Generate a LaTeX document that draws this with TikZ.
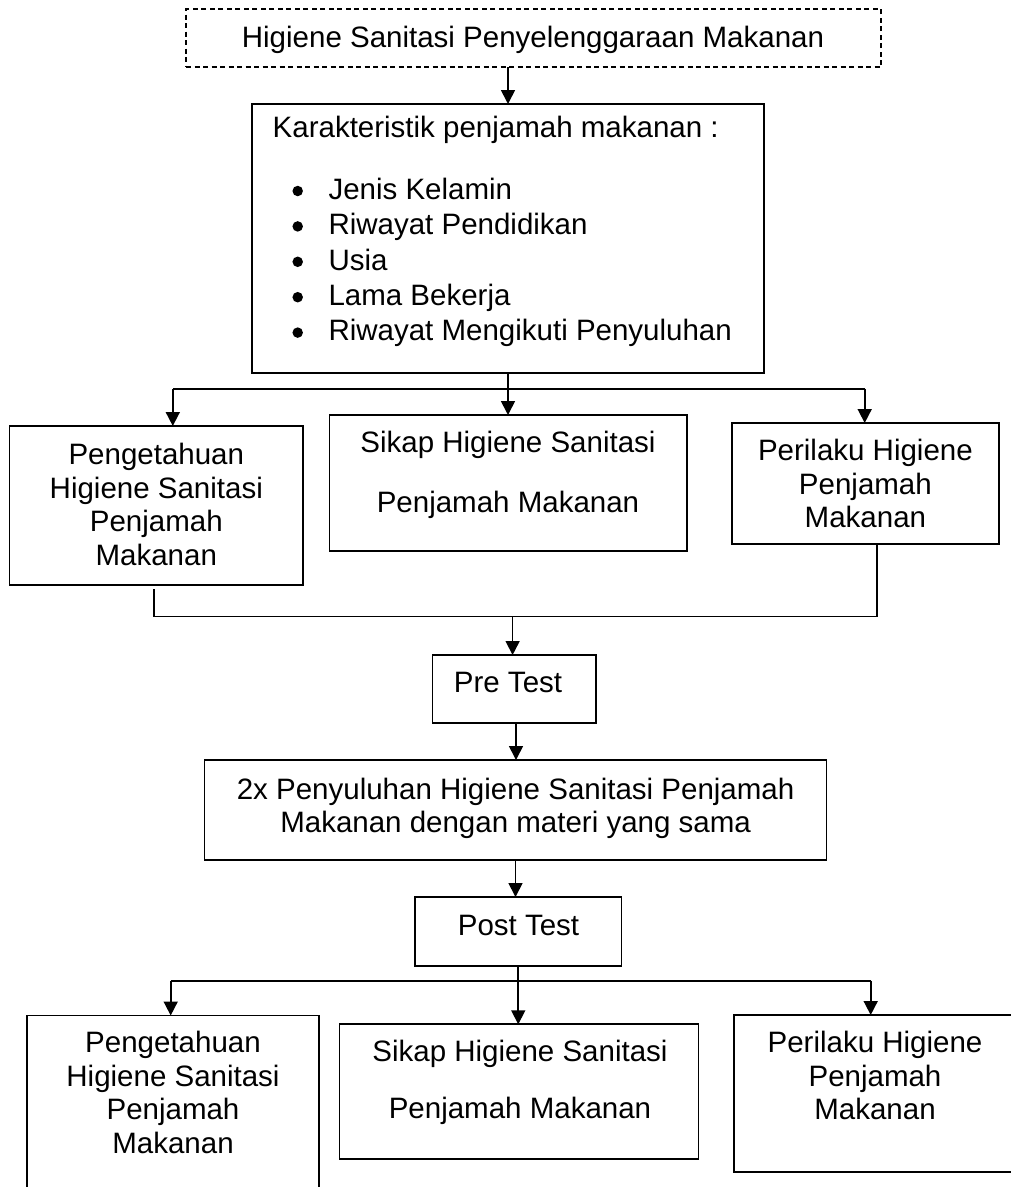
\documentclass[tikz,border=0pt]{standalone}
\usepackage{fontspec}
\setmainfont{Liberation Sans}
\usetikzlibrary{arrows.meta}
\newcommand\fsA{\fontsize{29.5}{33.5}\selectfont}
\newcommand\fsB{\fontsize{29.5}{35.4}\selectfont}
\begin{document}
\begin{tikzpicture}[x=1pt,y=-1pt,
  box/.style={draw, line width=1.7pt, inner sep=0pt, outer sep=0pt, anchor=north west},
  dbox/.style={box, line width=1.5pt, dash pattern=on 5pt off 3.5pt},
  txt/.style={inner sep=0pt, outer sep=0pt, align=center, anchor=north, font=\fsA},
  btxt/.style={inner sep=0pt, outer sep=0pt, anchor=base, font=\fsA},
  dot/.style={circle, fill, inner sep=0pt, minimum size=10.5pt},
  ln/.style={line width=1.7pt},
  arr/.style={line width=1.7pt, -{Triangle[length=14pt,width=14pt]}},
]
\useasboundingbox (0,0) rectangle (1011,1187);
\clip (0,0) rectangle (1011,1187);

% boxes
\node[dbox, minimum width=695pt, minimum height=58pt] (top) at (186,9) {};
\node[box, minimum width=512pt, minimum height=269pt] (kar) at (252,104) {};
\node[box, minimum width=293.5pt, minimum height=159pt] (pk1) at (9.5,426) {};
\node[box, minimum width=357.5pt, minimum height=136pt] (sk1) at (329.5,415) {};
\node[box, minimum width=267pt, minimum height=121pt] (pr1) at (732,423) {};
\node[box, minimum width=163.5pt, minimum height=68pt] (pre) at (432.5,655) {};
\node[box, minimum width=622pt, minimum height=100pt] (pen) at (204.5,760) {};
\node[box, minimum width=206.5pt, minimum height=69pt] (post) at (415,897) {};
\node[box, minimum width=292.5pt, minimum height=200pt] (pk2) at (26.7,1015.5) {};
\node[box, minimum width=359pt, minimum height=135pt] (sk2) at (339.5,1024.3) {};
\node[box, minimum width=300pt, minimum height=156.7pt] (pr2) at (734,1015) {};

% texts
\node[btxt] (ttop) at (533,47) {Higiene Sanitasi Penyelenggaraan Makanan};
\node[btxt, anchor=base west] (tkar) at (272.7,137.5) {Karakteristik penjamah makanan :};
\node[txt, anchor=north west, align=left, font=\fsB] (tlist) at (328.5,174.5)
  {\strut Jenis Kelamin\\\strut Riwayat Pendidikan\\\strut Usia\\\strut Lama Bekerja\\\strut Riwayat Mengikuti Penyuluhan};
\node[dot] (d1) at (297.7,191) {};
\node[dot] (d2) at (297.7,226.4) {};
\node[dot] (d3) at (297.7,261.8) {};
\node[dot] (d4) at (297.7,297.2) {};
\node[dot] (d5) at (297.7,332.6) {};

\node[txt] (tpk1) at (156.3,441.5) {\strut Pengetahuan\\\strut Higiene Sanitasi\\\strut Penjamah\\\strut Makanan};
\node[txt] (tsk1) at (508,429.2) {\strut Sikap Higiene Sanitasi\\[26.8pt]\strut Penjamah Makanan};
\node[txt] (tpr1) at (865.4,437.5) {\strut Perilaku Higiene\\\strut Penjamah\\\strut Makanan};
\node[btxt] (tpre) at (508,692.7) {Pre Test};
\node[txt] (tpen) at (515.6,775.8) {\strut 2x Penyuluhan Higiene Sanitasi Penjamah\\\strut Makanan dengan materi yang sama};
\node[btxt] (tpost) at (518.5,935) {Post Test};
\node[txt] (tpk2) at (173,1029.2) {\strut Pengetahuan\\\strut Higiene Sanitasi\\\strut Penjamah\\\strut Makanan};
\node[txt] (tsk2) at (520,1038.2) {\strut Sikap Higiene Sanitasi\\[23.1pt]\strut Penjamah Makanan};
\node[txt] (tpr2) at (875,1029.2) {\strut Perilaku Higiene\\\strut Penjamah\\\strut Makanan};

% connectors
\draw[arr] (kar.north |- top.south) -- (kar.north);

\coordinate (br1) at (508,388.7);
\coordinate (brL) at (172.8,388.7);
\coordinate (brR) at (864.7,388.7);
\draw[ln] (kar.south) -- (br1);
\draw[ln] (brL) -- (brR);
\draw[arr] (brL) -- (brL |- pk1.north);
\draw[arr] (br1) -- (br1 |- sk1.north);
\draw[arr] (brR) -- (brR |- pr1.north);

\coordinate (mL) at (154,589);
\coordinate (mLb) at (154,616.5);
\coordinate (mRb) at (877,616.5);
\coordinate (mC) at (512.6,616.5);
\draw[ln] (mL) -- (mLb) -- (mRb) -- (mRb |- pr1.south);
\draw[arr] (mC) -- (mC |- pre.north);

\coordinate (pa) at (516,723);
\draw[arr] (pa |- pre.south) -- (pa |- pen.north);
\draw[arr] (pen.south) -- (pen.south |- post.north);

\coordinate (bb) at (518.25,980.7);
\coordinate (bbL) at (170.7,980.7);
\coordinate (bbR) at (870.7,980.7);
\draw[ln] (post.south) -- (bb);
\draw[ln] (bbL) -- (bbR);
\draw[arr] (bbL) -- (bbL |- pk2.north);
\draw[arr] (bb) -- (bb |- sk2.north);
\draw[arr] (bbR) -- (bbR |- pr2.north);
\end{tikzpicture}
\end{document}
